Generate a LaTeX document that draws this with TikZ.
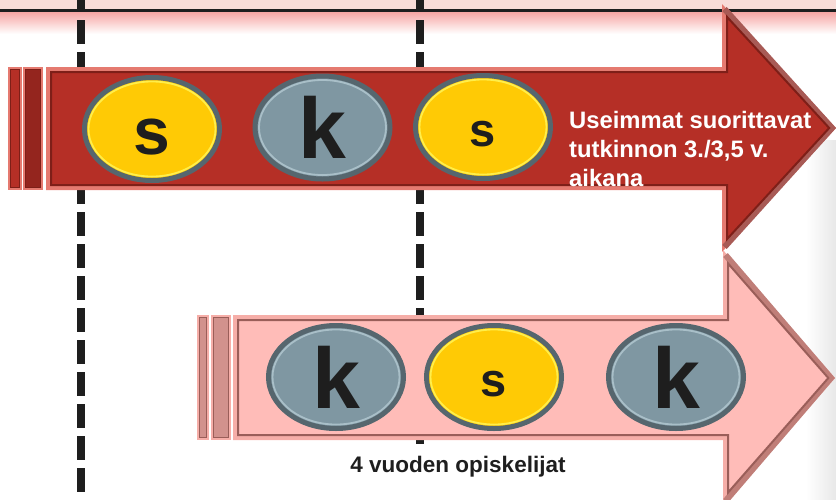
\documentclass[tikz,border=0pt]{standalone}
\usepackage{fontspec}
\setmainfont{Liberation Sans}
\usetikzlibrary{shapes.geometric}

\definecolor{bandpink}{HTML}{F8DCD8}
\definecolor{bandfade}{HTML}{F7A6A4}
\definecolor{redrim}{HTML}{E57A70}
\definecolor{redbody}{HTML}{B52F26}
\definecolor{reddark}{HTML}{7E1F18}
\definecolor{rededge}{HTML}{A85A55}
\definecolor{pinkrim}{HTML}{F6AEA8}
\definecolor{pinkbody}{HTML}{FFBCB8}
\definecolor{pinkdark}{HTML}{9A5E59}
\definecolor{pinkedge}{HTML}{C07E78}
\definecolor{coinrim}{HTML}{56666E}
\definecolor{coinyellow}{HTML}{FFCA05}
\definecolor{ringyellow}{HTML}{FFEE4A}
\definecolor{coingrey}{HTML}{7F97A2}
\definecolor{ringgrey}{HTML}{A9BFC8}
\definecolor{letter}{HTML}{1E1E1E}

\begin{document}
\begin{tikzpicture}[x=1pt,y=-1pt]
	\tikzset{coin/.style = {shape=ellipse, minimum width=135pt, minimum height=103pt, inner sep=0pt, line width=5pt, draw=coinrim, text=letter}}
	\tikzset{yellowcoin/.style = {coin, fill=coinyellow, path picture={\draw[line width=1.8pt, ringyellow] (path picture bounding box.center) ellipse [x radius=63.5pt, y radius=47.5pt];}}}
	\tikzset{greycoin/.style = {coin, fill=coingrey, path picture={\draw[line width=1.8pt, ringgrey] (path picture bounding box.center) ellipse [x radius=63.5pt, y radius=47.5pt];}}}
	\tikzset{bigs/.style = {font=\fontsize{66}{66}\selectfont\bfseries, text height=50pt, text depth=0pt}}
	\tikzset{bigk/.style = {font=\fontsize{86}{86}\selectfont\bfseries, text height=62pt, text depth=0pt}}
	\tikzset{smalls/.style = {font=\fontsize{47}{47}\selectfont\bfseries, text height=38pt, text depth=0pt}}
	\tikzset{yearline/.style = {line width=8pt, letter, dash pattern=on 24pt off 8pt}}
	
	\useasboundingbox (0,0) rectangle (836,499);
	\clip (0,0) rectangle (836,499);
	
	% top band
	\fill[bandpink] (0,0) rectangle (836,9);
	\shade[top color=bandfade, bottom color=white] (0,12) rectangle (836,34);
	\draw[line width=3pt, letter] (0,10.5) -- (836,10.5);
	\shade[left color=white, right color=black!9] (806,140) rectangle (836,499);
	
	% year lines
	\draw[yearline] (80.5,-12) -- (80.5,499);
	\draw[yearline] (420,-12) -- (420,444);
	
	% red arrow
	\fill[redrim] (8,67) rectangle (22,190);
	\draw[reddark, line width=1.5pt, fill=redbody] (10.5,69.5) rectangle (19.5,187.5);
	\fill[redrim] (23,67) rectangle (43,190);
	\draw[reddark, line width=1.5pt, fill=reddark!60!redbody] (25.5,69.5) rectangle (40.5,187.5);
	\fill[redrim] (46,67) -- (722,67) -- (722,4) -- (836,128) -- (722,252) -- (722,190) -- (46,190) -- cycle;
	\draw[rededge, line width=6pt] (724.5,9) -- (832,128) -- (724.5,247);
	\draw[reddark, line width=2pt, fill=redbody, line join=miter] (51,72) -- (727,72) -- (727,16.9) -- (829.2,128) -- (727,239.1) -- (727,185) -- (51,185) -- cycle;
	
	% pink arrow
	\fill[pinkrim] (197,315) rectangle (209,440);
	\draw[pinkdark, line width=1.5pt, fill=pinkdark!45!pinkbody] (199.5,317.5) rectangle (206.5,437.5);
	\fill[pinkrim] (211,315) rectangle (231,440);
	\draw[pinkdark, line width=1.5pt, fill=pinkdark!45!pinkbody] (213.5,317.5) rectangle (228.5,437.5);
	\fill[pinkrim] (233,315) -- (723,315) -- (723,250) -- (835,378) -- (723,506) -- (723,440) -- (233,440) -- cycle;
	\draw[pinkedge, line width=6pt] (725.5,255) -- (831,378) -- (725.5,501);
	\draw[pinkdark, line width=2pt, fill=pinkbody, line join=miter] (238,320) -- (728,320) -- (728,263.4) -- (828.3,378) -- (728,492.6) -- (728,435) -- (238,435) -- cycle;
	
	% coins
	\node[yellowcoin, bigs] (S1) at (152,129) {s};
	\node[greycoin, bigk] (K1) at (322.5,127.5) {k};
	\node[yellowcoin, smalls] (S2) at (483,127) {s};
	\node[greycoin, bigk] (K2) at (336,377) {k};
	\node[yellowcoin, smalls] (S3) at (494,377) {s};
	\node[greycoin, bigk] (K3) at (676,377) {k};
	
	\node[anchor=north west, inner sep=0pt, align=left, text=white, font=\fontsize{23.8}{29}\selectfont\bfseries] (MOST) at (569,111)
	{Useimmat suorittavat\\tutkinnon 3./3,5 v.\\aikana};
	\node[anchor=base, inner sep=0pt, text=letter, font=\fontsize{22.5}{22.5}\selectfont\bfseries] (FOUR) at (458,472) {4 vuoden opiskelijat};
	
\end{tikzpicture}
\end{document}
